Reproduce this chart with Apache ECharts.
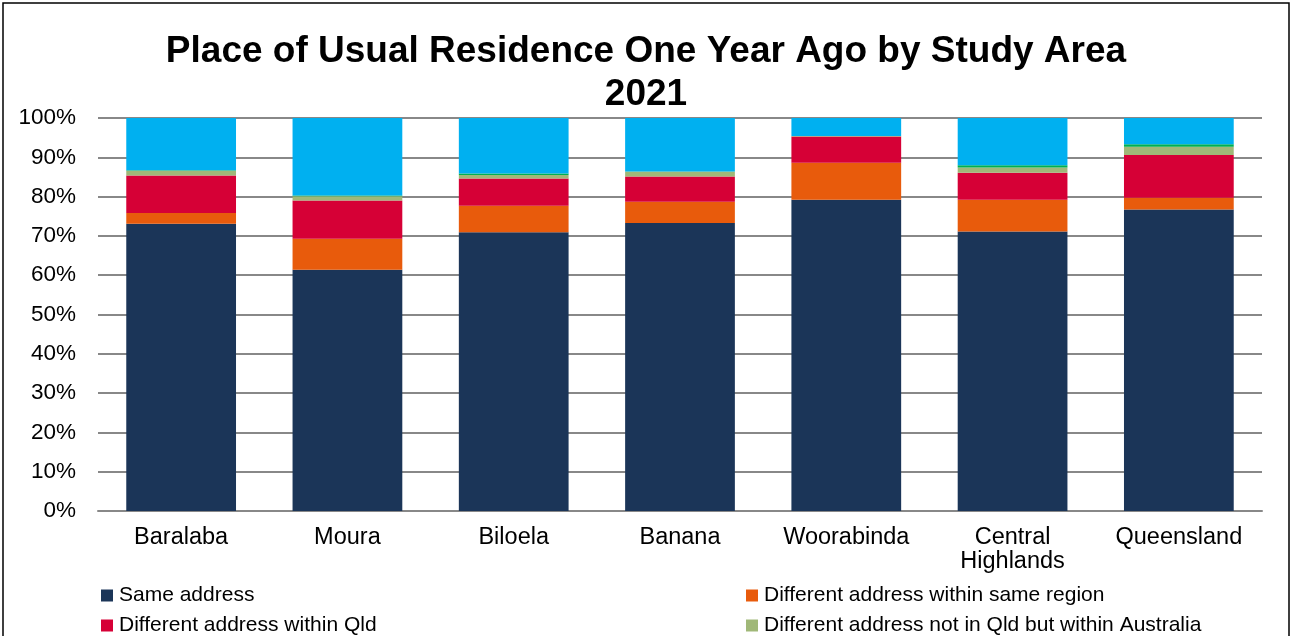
<!DOCTYPE html>
<html>
<head>
<meta charset="utf-8">
<script src="https://cdn.jsdelivr.net/npm/echarts@6/dist/echarts.min.js"></script>
<style>
  html, body { margin: 0; padding: 0; background: #fff; overflow: hidden; }
  #chart { width: 1292px; height: 636px; }
</style>
</head>
<body>
<div id="chart"></div>
<script>
// Study areas
const areas = ['Baralaba', 'Moura', 'Biloela', 'Banana', 'Woorabinda', 'Central Highlands', 'Queensland'];

// Share of persons (%) by place of usual residence one year ago
const sameAddress        = [73.1, 61.4, 70.9, 73.3, 79.2, 71.1, 76.7];
const sameRegion         = [2.7, 7.9, 6.8, 5.4, 9.4, 8.1, 3.0];
const withinQld          = [9.6, 9.7, 6.9, 6.4, 6.7, 6.9, 10.9];
const withinAustralia    = [1.2, 1.1, 0.9, 1.2, 0.1, 1.3, 2.1];
const overseas           = [0.1, 0.2, 0.4, 0.1, 0.0, 0.6, 0.6];
const notStated          = [13.3, 19.7, 14.1, 13.6, 4.6, 12.0, 6.7];

const seriesNames = [
  'Same address',
  'Different address within same region',
  'Different address within Qld',
  'Different address not in Qld but within Australia',
  'Different address overseas',
  'Not stated'
];
const seriesData = [sameAddress, sameRegion, withinQld, withinAustralia, overseas, notStated];
const colors = ['#1B3558', '#E85B0C', '#D60036', '#A0B878', '#00B050', '#00B0F0'];

const font = 'Liberation Sans, Arial, sans-serif';
const chart = echarts.init(document.getElementById('chart'), null, { renderer: 'canvas' });

// one legend block per visible entry, laid out in two columns
const legendSlots = [
  { idx: 0, left: 101, top: 585 },
  { idx: 1, left: 746, top: 585 },
  { idx: 2, left: 101, top: 615 },
  { idx: 3, left: 746, top: 615 }
];
const legends = legendSlots.map(s => ({
  data: [seriesNames[s.idx]],
  left: s.left,
  top: s.top,
  padding: 0,
  itemWidth: 12,
  itemHeight: 12,
  icon: 'rect',
  selectedMode: false,
  textStyle: { fontFamily: font, fontSize: 21, color: '#000', padding: [0, 0, 0, 1] }
}));

chart.setOption({
  animation: false,
  color: colors,
  title: {
    text: 'Place of Usual Residence One Year Ago by Study Area\n2021',
    left: 'center',
    top: 25,
    textStyle: { fontFamily: font, fontSize: 37, fontWeight: 'bold', color: '#000', lineHeight: 43 }
  },
  legend: legends,
  graphic: [{
    type: 'rect',
    shape: { x: 3, y: 3, width: 1286, height: 700 },
    style: { fill: 'none', stroke: '#000', lineWidth: 1.5 },
    silent: true,
    z: 100
  }],
  grid: { left: 98, right: 30, top: 118, height: 393, containLabel: false },
  xAxis: {
    type: 'category',
    data: areas,
    axisLine: { lineStyle: { color: '#888', width: 2 } },
    axisTick: { show: false },
    axisLabel: {
      fontFamily: font, fontSize: 23.5, color: '#000', margin: 15, lineHeight: 24,
      formatter: v => v.replace(' ', '\n')
    }
  },
  yAxis: {
    type: 'value',
    min: 0,
    max: 100,
    interval: 10,
    axisLine: { show: false },
    axisTick: { show: false },
    splitLine: { lineStyle: { color: '#888', width: 2 } },
    axisLabel: { fontFamily: font, fontSize: 22.5, color: '#000', margin: 22, formatter: '{value}%' }
  },
  series: seriesNames.map((name, i) => ({
    name,
    type: 'bar',
    stack: 'total',
    barWidth: '66%',
    data: seriesData[i],
    itemStyle: { color: colors[i] }
  }))
});
</script>
</body>
</html>
